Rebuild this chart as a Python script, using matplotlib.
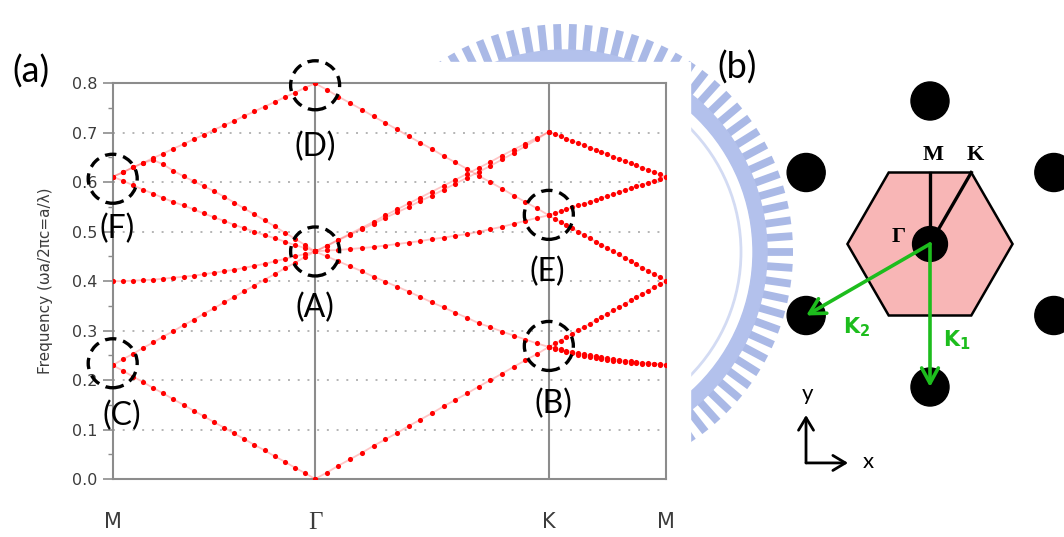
import numpy as np
import matplotlib
matplotlib.use("Agg")
import matplotlib.pyplot as plt
from matplotlib import patches, transforms
from matplotlib.collections import LineCollection

# ---- panel (a): band structure along M - Gamma - K - M ----
path_labels = ["M", "Γ", "K", "M"]
seg_lengths = [1 / np.sqrt(3), 2 / 3, 1 / 3]   # |M-G|, |G-K|, |K-M| in 2pi/a
n_k = 21

# M -> Gamma
mg_bands = [
    [0.230, 0.219, 0.207, 0.196, 0.184, 0.173, 0.161, 0.150, 0.138, 0.127, 0.115,
     0.104, 0.092, 0.081, 0.069, 0.058, 0.046, 0.035, 0.023, 0.012, 0.000],
    [0.230, 0.242, 0.253, 0.265, 0.276, 0.288, 0.299, 0.311, 0.322, 0.334, 0.345,
     0.357, 0.368, 0.380, 0.391, 0.403, 0.414, 0.426, 0.437, 0.449, 0.460],
    [0.400, 0.400, 0.401, 0.402, 0.403, 0.405, 0.407, 0.409, 0.411, 0.414, 0.417,
     0.420, 0.423, 0.427, 0.431, 0.435, 0.440, 0.445, 0.450, 0.455, 0.460],
    [0.611, 0.620, 0.630, 0.639, 0.649, 0.658, 0.668, 0.677, 0.687, 0.696, 0.706,
     0.715, 0.724, 0.734, 0.743, 0.753, 0.762, 0.772, 0.781, 0.791, 0.800],
    [0.611, 0.620, 0.630, 0.639, 0.645, 0.636, 0.623, 0.612, 0.602, 0.592, 0.582,
     0.571, 0.559, 0.547, 0.535, 0.523, 0.511, 0.498, 0.486, 0.473, 0.460],
    [0.611, 0.603, 0.594, 0.585, 0.577, 0.568, 0.560, 0.553, 0.545, 0.537, 0.529,
     0.522, 0.514, 0.507, 0.500, 0.493, 0.487, 0.480, 0.473, 0.467, 0.460],
]

# Gamma -> K
gk_bands = [
    [0.000, 0.013, 0.027, 0.040, 0.053, 0.067, 0.080, 0.093, 0.107, 0.120, 0.133,
     0.147, 0.160, 0.173, 0.187, 0.200, 0.213, 0.227, 0.240, 0.253, 0.267],
    [0.460, 0.450, 0.440, 0.430, 0.420, 0.409, 0.399, 0.389, 0.379, 0.368, 0.357,
     0.347, 0.336, 0.326, 0.315, 0.307, 0.298, 0.290, 0.282, 0.274, 0.267],
    [0.460, 0.462, 0.463, 0.465, 0.467, 0.469, 0.472, 0.475, 0.478, 0.481, 0.485,
     0.488, 0.492, 0.495, 0.500, 0.505, 0.510, 0.516, 0.522, 0.528, 0.533],
    [0.460, 0.472, 0.484, 0.496, 0.508, 0.520, 0.533, 0.545, 0.557, 0.569, 0.581,
     0.593, 0.605, 0.617, 0.629, 0.641, 0.654, 0.666, 0.678, 0.690, 0.702],
    [0.460, 0.471, 0.483, 0.494, 0.505, 0.516, 0.528, 0.539, 0.550, 0.562, 0.573,
     0.585, 0.597, 0.609, 0.621, 0.633, 0.646, 0.659, 0.673, 0.687, 0.702],
    [0.800, 0.787, 0.773, 0.760, 0.747, 0.733, 0.720, 0.707, 0.693, 0.680, 0.667,
     0.653, 0.640, 0.627, 0.613, 0.600, 0.587, 0.573, 0.560, 0.547, 0.533],
]

# K -> M
km_bands = [
    [0.267, 0.263, 0.260, 0.257, 0.254, 0.251, 0.249, 0.247, 0.245, 0.243, 0.241,
     0.239, 0.238, 0.236, 0.235, 0.234, 0.233, 0.232, 0.232, 0.231, 0.231],
    [0.267, 0.265, 0.262, 0.259, 0.257, 0.254, 0.252, 0.250, 0.248, 0.246, 0.244,
     0.242, 0.241, 0.239, 0.238, 0.236, 0.235, 0.234, 0.233, 0.232, 0.231],
    [0.267, 0.274, 0.280, 0.287, 0.294, 0.301, 0.307, 0.314, 0.321, 0.327, 0.334,
     0.341, 0.347, 0.354, 0.361, 0.368, 0.374, 0.381, 0.388, 0.394, 0.401],
    [0.533, 0.526, 0.520, 0.513, 0.507, 0.500, 0.493, 0.487, 0.480, 0.474, 0.467,
     0.460, 0.454, 0.447, 0.441, 0.434, 0.427, 0.421, 0.414, 0.408, 0.401],
    [0.533, 0.537, 0.541, 0.545, 0.549, 0.553, 0.556, 0.560, 0.564, 0.568, 0.572,
     0.576, 0.580, 0.584, 0.588, 0.592, 0.595, 0.599, 0.603, 0.607, 0.611],
    [0.702, 0.697, 0.693, 0.688, 0.684, 0.679, 0.675, 0.670, 0.666, 0.661, 0.657,
     0.652, 0.647, 0.643, 0.638, 0.634, 0.629, 0.625, 0.620, 0.616, 0.611],
]

# marked degeneracies: label, index of path point, frequency
mark_labels = ["A", "B", "C", "D", "E", "F"]
mark_node = [1, 2, 0, 1, 2, 0]
mark_freq = [0.460, 0.269, 0.234, 0.796, 0.534, 0.607]

# ---- panel (b): reciprocal lattice ----
lattice_angles = [30, 90, 150, 210, 270, 330]   # directions of G vectors (deg)
k1_angle, k2_angle = 270, 210

W, H = 1064, 537
fig = plt.figure(figsize=(W / 100, H / 100), dpi=100)


def px_rect(x0, y0, x1, y1):
    return [x0 / W, 1 - y1 / H, (x1 - x0) / W, (y1 - y0) / H]


# faint watermark behind everything
bg = fig.add_axes([0, 0, 1, 1])
bg.set_xlim(0, W)
bg.set_ylim(H, 0)
bg.axis("off")
cx, cy = 565, 252
ang = np.deg2rad(np.arange(0, 360, 4.0))
teeth = [[(cx + 198 * np.cos(a), cy + 198 * np.sin(a)),
          (cx + 228 * np.cos(a), cy + 228 * np.sin(a))] for a in ang]
bg.add_collection(LineCollection(teeth, colors="#aab9e6", linewidths=5.6,
                                 capstyle="butt", zorder=1))
bg.add_patch(patches.Annulus((cx, cy), 202, 14, color="#b3c1ec", zorder=1))
bg.add_patch(patches.Circle((cx, cy), 176, fill=False, ec="#d3dbf3", lw=2, zorder=1))
bg.add_patch(patches.Rectangle((0, 62), 690, H - 62, color="white", zorder=5))

# ---- panel (a) ----
ax = fig.add_axes(px_rect(112.7, 83.3, 665.7, 479))
nodes = np.concatenate([[0], np.cumsum(seg_lengths)])
for s, bands in enumerate([mg_bands, gk_bands, km_bands]):
    k = nodes[s] + np.linspace(0, 1, n_k) * seg_lengths[s]
    for band in bands:
        ax.plot(k, band, "-", color=(1, 0.1, 0.1, 0.25), lw=1.3, zorder=3)
        ax.plot(k, band, "o", color="#ff0000", ms=3.7, mew=0, zorder=4)

for y in np.arange(0.1, 0.75, 0.1):
    ax.axhline(y, color="#b4b4b4", lw=1.4, ls=(0, (1, 4)), zorder=1)
for x in nodes[1:3]:
    ax.axvline(x, color="#8c8c8c", lw=1.5, zorder=2)

for sp in ax.spines.values():
    sp.set_color("#8c8c8c")
    sp.set_linewidth(1.5)

ax.set_yticks(np.arange(0, 0.81, 0.1))
ax.set_yticks(np.arange(0.05, 0.8, 0.1), minor=True)
ax.set_yticklabels([f"{v:.1f}" for v in np.arange(0, 0.81, 0.1)])
ax.tick_params(axis="y", which="major", direction="out", length=7, width=1.2,
               color="#8c8c8c", labelsize=11.5, labelcolor="#3c3c3c", pad=4)
ax.tick_params(axis="y", which="minor", direction="out", length=3.5, width=1.0,
               color="#8c8c8c")
ax.set_xticks(nodes)
ax.set_xticklabels(path_labels)
ax.tick_params(axis="x", length=0, pad=24, labelsize=15, labelcolor="#3c3c3c")
gamma_lab = ax.get_xticklabels()[1]
gamma_lab.set_fontfamily("Liberation Serif")
gamma_lab.set_fontsize(18)
ax.set_ylabel("Frequency (ωa/2πc=a/λ)", fontsize=11, color="#3c3c3c")
ax.yaxis.set_label_coords(-0.108, 0.5)

# dashed circles around the degenerate points and their labels
label_offsets = {"A": (0, -41), "B": (3.6, -42), "C": (6.5, -38),
                 "D": (0, -44.6), "E": (-1.4, -41), "F": (2.9, -36)}
for lab, node, f in zip(mark_labels, mark_node, mark_freq):
    tr = fig.dpi_scale_trans + transforms.ScaledTranslation(nodes[node], f, ax.transData)
    ax.add_patch(patches.Circle((0, 0), 0.245, transform=tr, fill=False, ec="black",
                                lw=2.4, ls=(0, (3.4, 2.1)), zorder=6, clip_on=False))
    ax.annotate(f"({lab})", xy=(nodes[node], f), xytext=label_offsets[lab],
                textcoords="offset points", ha="center", va="center",
                fontsize=23, family="Lato", color="black", zorder=7,
                annotation_clip=False)

ax.set_xlim(0, nodes[-1])
ax.set_ylim(0, 0.8)

fig.text(31 / W, 1 - 72 / H, "(a)", ha="center", va="center", fontsize=26, family="Lato")
fig.text(737 / W, 1 - 68 / H, "(b)", ha="center", va="center", fontsize=26, family="Lato")

# ---- panel (b) ----
scale = 143.0   # pixels per |G|
gx, gy = 930, 244
axb = fig.add_axes(px_rect(700, 0, W, H))
axb.set_xlim((700 - gx) / scale, (W - gx) / scale)
axb.set_ylim((gy - H) / scale, gy / scale)
axb.axis("off")
axb.patch.set_alpha(0)

axb.add_patch(patches.RegularPolygon((0, 0), 6, radius=0.5 / np.cos(np.pi / 6),
                                     orientation=np.pi / 6, fc="#f8b6b6", ec="black",
                                     lw=1.8, zorder=1))
for a in np.deg2rad(lattice_angles):
    axb.add_patch(patches.Circle((np.cos(a), np.sin(a)), 0.133, color="black", zorder=2))
axb.plot([0, 0], [0, 0.5], color="black", lw=2.4, zorder=2)
axb.plot([0, 0.5 * np.tan(np.pi / 6)], [0, 0.5], color="black", lw=2.4, zorder=2)
axb.add_patch(patches.Circle((0, 0), 0.122, color="black", zorder=3))

axb.text(0.02, 0.62, "M", ha="center", va="center", fontsize=16,
         family="Liberation Serif", weight="bold")
axb.text(0.315, 0.62, "K", ha="center", va="center", fontsize=16,
         family="Liberation Serif", weight="bold")
axb.text(-0.217, 0.05, "Γ", ha="center", va="center", fontsize=16,
         family="Liberation Serif", weight="bold")

green = "#1dbd1d"
for a, lab, pos in [(k1_angle, r"$\mathbf{K}_\mathbf{1}$", (0.185, -0.67)),
                    (k2_angle, r"$\mathbf{K}_\mathbf{2}$", (-0.51, -0.58))]:
    tip = (np.cos(np.deg2rad(a)), np.sin(np.deg2rad(a)))
    axb.annotate("", xy=tip, xytext=(0, 0),
                 arrowprops=dict(arrowstyle="->,head_length=0.55,head_width=0.3",
                                 color=green, lw=2.6, mutation_scale=20,
                                 shrinkA=0, shrinkB=0), zorder=4)
    axb.text(pos[0], pos[1], lab, color=green, fontsize=15, ha="center", va="center")

origin = (-0.867, -1.531)
for end in [(-0.867, -1.196), (-0.573, -1.531)]:
    axb.annotate("", xy=end, xytext=origin,
                 arrowprops=dict(arrowstyle="->,head_length=0.5,head_width=0.3",
                                 color="black", lw=2.0, mutation_scale=18,
                                 shrinkA=0, shrinkB=0))
axb.text(-0.86, -1.048, "y", ha="center", va="center", fontsize=16, family="Lato")
axb.text(-0.434, -1.524, "x", ha="center", va="center", fontsize=16, family="Lato")

fig.savefig("out.png", dpi=100)
